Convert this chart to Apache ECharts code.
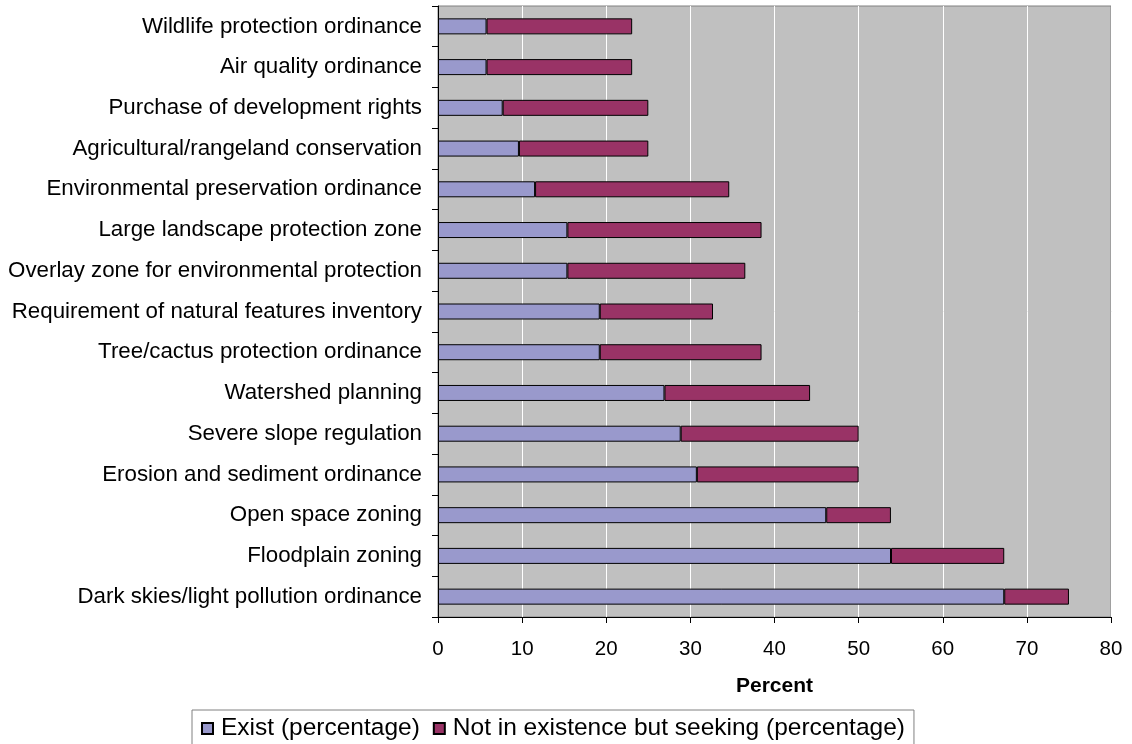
<!DOCTYPE html>
<html>
<head>
<meta charset="utf-8">
<script src="https://cdn.jsdelivr.net/npm/echarts@6/dist/echarts.min.js"></script>
<style>
  html, body { margin: 0; padding: 0; background: #ffffff; }
  #chart { width: 1132px; height: 744px; }
</style>
</head>
<body>
<div id="chart"></div>
<script>
// Land-use tools, listed top to bottom
const categories = [
  'Wildlife protection ordinance',
  'Air quality ordinance',
  'Purchase of development rights',
  'Agricultural/rangeland conservation',
  'Environmental preservation ordinance',
  'Large landscape protection zone',
  'Overlay zone for environmental protection',
  'Requirement of natural features inventory',
  'Tree/cactus protection ordinance',
  'Watershed planning',
  'Severe slope regulation',
  'Erosion and sediment ordinance',
  'Open space zoning',
  'Floodplain zoning',
  'Dark skies/light pollution ordinance'
];

const existValues = [5.77, 5.77, 7.69, 9.62, 11.54, 15.38, 15.38, 19.23, 19.23, 26.92, 28.85, 30.77, 46.15, 53.85, 67.31];
const seekingValues = [17.31, 17.31, 17.31, 15.38, 23.08, 23.08, 21.15, 13.46, 19.23, 17.31, 21.15, 19.23, 7.69, 13.46, 7.69];

const seriesNames = ['Exist (percentage)', 'Not in existence but seeking (percentage)'];
const xTicks = [0, 10, 20, 30, 40, 50, 60, 70, 80];

const FONT = '"Liberation Sans", Arial, sans-serif';

const chart = echarts.init(document.getElementById('chart'), null, { renderer: 'canvas' });

chart.setOption({
  animation: false,
  backgroundColor: '#ffffff',
  textStyle: { fontFamily: FONT },
  grid: {
    left: 438, right: 21, top: 6, bottom: 127,
    show: true,
    backgroundColor: '#c0c0c0',
    borderColor: '#808080',
    borderWidth: 1
  },
  legend: {
    left: 192, top: 710,
    itemWidth: 11, itemHeight: 11, itemGap: 13,
    padding: [6, 9, 6, 9],
    borderColor: '#808080', borderWidth: 1,
    icon: 'rect',
    textStyle: { fontSize: 24.5, color: '#000', fontFamily: FONT, padding: [0, 0, 0, 3] },
    data: seriesNames
  },
  xAxis: {
    type: 'value',
    min: xTicks[0], max: xTicks[xTicks.length - 1], interval: 10,
    name: 'Percent',
    nameLocation: 'middle',
    nameGap: 59,
    nameTextStyle: { fontSize: 21, fontWeight: 'bold', color: '#000', fontFamily: FONT },
    axisLine: { show: true, lineStyle: { color: '#000', width: 1 } },
    axisTick: { show: true, length: 6, lineStyle: { color: '#000' } },
    axisLabel: { fontSize: 20.5, color: '#000', margin: 22, fontFamily: FONT },
    splitLine: { show: true, lineStyle: { color: '#ffffff', width: 1 } }
  },
  yAxis: {
    type: 'category',
    data: categories,
    inverse: true,
    axisLine: { show: true, onZero: false, lineStyle: { color: '#000', width: 1 } },
    axisTick: { show: true, length: 6, alignWithLabel: false, lineStyle: { color: '#000' } },
    axisLabel: { fontSize: 22.3, color: '#000', margin: 16, fontFamily: FONT },
    splitLine: { show: false }
  },
  series: [
    {
      name: seriesNames[0],
      type: 'bar',
      stack: 'total',
      barWidth: 16,
      data: existValues,
      itemStyle: { color: '#9999cc', borderColor: '#000', borderWidth: 1 }
    },
    {
      name: seriesNames[1],
      type: 'bar',
      stack: 'total',
      barWidth: 16,
      data: seekingValues,
      itemStyle: { color: '#993366', borderColor: '#000', borderWidth: 1 }
    }
  ]
});
</script>
</body>
</html>
